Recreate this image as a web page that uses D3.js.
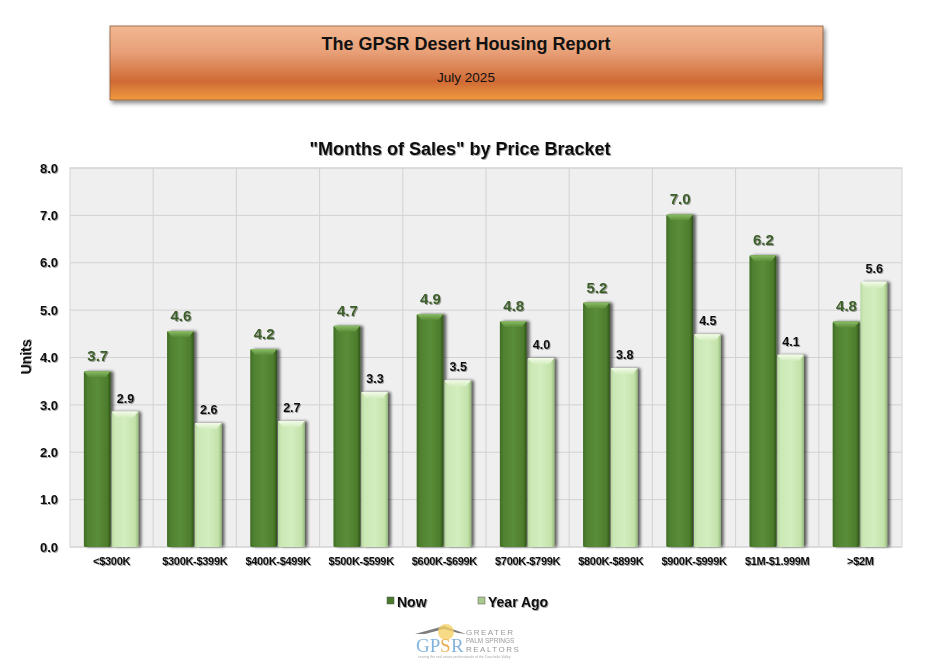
<!DOCTYPE html>
<html><head><meta charset="utf-8">
<script src="https://cdn.jsdelivr.net/npm/d3@7"></script>
<style>
body{margin:0;background:#fff;}
svg{display:block;font-family:"Liberation Sans",Arial,sans-serif;}
</style></head>
<body>
<svg id="c" width="937" height="668"></svg>
<script>
const categories = ["<$300K","$300K-$399K","$400K-$499K","$500K-$599K","$600K-$699K","$700K-$799K","$800K-$899K","$900K-$999K","$1M-$1.999M",">$2M"];
const nowValues = [3.71, 4.56, 4.18, 4.67, 4.92, 4.77, 5.16, 7.02, 6.16, 4.76];
const yearAgoValues = [2.86, 2.62, 2.66, 3.27, 3.52, 3.99, 3.78, 4.49, 4.06, 5.60];
const yTicks = [0,1,2,3,4,5,6,7,8];
const seriesNames = ["Now","Year Ago"];

const svg = d3.select("#c");
const defs = svg.append("defs");

// filters
const sh = defs.append("filter").attr("id","txtsh").attr("x","-20%").attr("y","-20%").attr("width","140%").attr("height","140%");
sh.append("feDropShadow").attr("dx",1).attr("dy",1).attr("stdDeviation",0.6).attr("flood-color","#000").attr("flood-opacity",0.35);
const bsh = defs.append("filter").attr("id","barsh").attr("x","-30%").attr("y","-10%").attr("width","160%").attr("height","120%");
bsh.append("feDropShadow").attr("dx",3).attr("dy",0).attr("stdDeviation",1.5).attr("flood-color","#000").attr("flood-opacity",0.6);
const boxsh = defs.append("filter").attr("id","boxsh").attr("x","-5%").attr("y","-20%").attr("width","110%").attr("height","150%");
boxsh.append("feDropShadow").attr("dx",2).attr("dy",3).attr("stdDeviation",2).attr("flood-color","#000").attr("flood-opacity",0.45);

// title box gradient
const tg = defs.append("linearGradient").attr("id","tg").attr("x1",0).attr("y1",0).attr("x2",0).attr("y2",1);
[[0,"#f2b792"],[0.35,"#e8a078"],[0.75,"#cf6a35"],[0.88,"#e0843a"],[1,"#f09a3c"]].forEach(s=>tg.append("stop").attr("offset",s[0]).attr("stop-color",s[1]));

// bar gradients
function hgrad(id, stops){
  const g = defs.append("linearGradient").attr("id",id).attr("x1",0).attr("y1",0).attr("x2",1).attr("y2",0);
  stops.forEach(s=>g.append("stop").attr("offset",s[0]).attr("stop-color",s[1]));
}
hgrad("gNow",[[0,"#3d6b22"],[0.12,"#4f8030"],[0.5,"#5a8d38"],[0.88,"#4d7c2c"],[1,"#2e5217"]]);
hgrad("gYa",[[0,"#b9d9a0"],[0.12,"#cbe8b5"],[0.5,"#d3edbf"],[0.88,"#c3e2aa"],[1,"#98bb7c"]]);
const capN = defs.append("linearGradient").attr("id","capN").attr("x1",0).attr("y1",0).attr("x2",0).attr("y2",1);
[[0,"#8cbc66"],[1,"#5a8d38"]].forEach(s=>capN.append("stop").attr("offset",s[0]).attr("stop-color",s[1]));
const capY = defs.append("linearGradient").attr("id","capY").attr("x1",0).attr("y1",0).attr("x2",0).attr("y2",1);
[[0,"#f4fbe9"],[1,"#d3edbf"]].forEach(s=>capY.append("stop").attr("offset",s[0]).attr("stop-color",s[1]));

// Title box
svg.append("rect").attr("x",110).attr("y",26).attr("width",713).attr("height",74)
  .attr("fill","url(#tg)").attr("stroke","#8a5a3a").attr("stroke-width",0.8).attr("filter","url(#boxsh)");
svg.append("text").attr("x",466).attr("y",50).attr("text-anchor","middle")
  .attr("font-size",18).attr("font-weight","bold").attr("fill","#111").text("The GPSR Desert Housing Report");
svg.append("text").attr("x",466).attr("y",82).attr("text-anchor","middle")
  .attr("font-size",13.5).attr("fill","#111").text("July 2025");

// Chart title
svg.append("text").attr("x",460).attr("y",155).attr("text-anchor","middle")
  .attr("font-size",18).attr("font-weight","bold").attr("fill","#111").attr("filter","url(#txtsh)")
  .text("\"Months of Sales\" by Price Bracket");

const m = {left:70, right:902, top:168, bottom:547};
const x = d3.scaleBand().domain(categories).range([m.left,m.right]).paddingInner(0).paddingOuter(0);
const y = d3.scaleLinear().domain([0,8]).range([m.bottom,m.top]);
const xs = d3.scaleBand().domain(seriesNames).range([0,x.bandwidth()]).paddingInner(0.0).paddingOuter(0.5);

// plot background
svg.append("rect").attr("x",m.left).attr("y",m.top).attr("width",m.right-m.left).attr("height",m.bottom-m.top)
  .attr("fill","#efefef").attr("stroke","#d4d4d4");

// grid
const grid = svg.append("g");
grid.selectAll("line.h").data(yTicks).join("line").attr("class","h")
  .attr("x1",m.left).attr("x2",m.right).attr("y1",d=>y(d)).attr("y2",d=>y(d))
  .attr("stroke","#d2d2d2").attr("stroke-width",1);
grid.selectAll("line.v").data(categories.slice(1)).join("line").attr("class","v")
  .attr("x1",d=>x(d)).attr("x2",d=>x(d)).attr("y1",m.top).attr("y2",m.bottom)
  .attr("stroke","#d2d2d2").attr("stroke-width",1);

// y axis
const yAxis = d3.axisLeft(y).tickValues(yTicks).tickFormat(d3.format(".1f")).tickSize(0).tickPadding(12);
const ya = svg.append("g").attr("transform",`translate(${m.left},0)`).call(yAxis);
ya.select(".domain").remove();
ya.selectAll("text").attr("font-size",13).attr("font-weight","bold").attr("fill","#111")
  .attr("font-family","Liberation Sans, Arial, sans-serif").attr("filter","url(#txtsh)");

svg.append("text").attr("transform","translate(31,357) rotate(-90)").attr("text-anchor","middle")
  .attr("font-size",14).attr("font-weight","bold").attr("fill","#111").attr("filter","url(#txtsh)").text("Units");

// x axis
const xAxis = d3.axisBottom(x).tickSize(0).tickPadding(10);
const xa = svg.append("g").attr("transform",`translate(0,${m.bottom})`).call(xAxis);
xa.select(".domain").remove();
xa.selectAll("text").attr("font-size",11).attr("font-weight","bold").attr("fill","#111")
  .attr("font-family","Liberation Sans, Arial, sans-serif").attr("letter-spacing","-0.3").attr("filter","url(#txtsh)");

// bars
const rows = categories.map((c,i)=>({c, vals:[{s:"Now",v:nowValues[i]},{s:"Year Ago",v:yearAgoValues[i]}]}));
const bw = xs.bandwidth();
const groups = svg.append("g").selectAll("g").data(rows).join("g").attr("transform",d=>`translate(${x(d.c)},0)`);
const bars = groups.selectAll("g.b").data(d=>d.vals).join("g").attr("class","b");
bars.append("rect")
  .attr("x",d=>xs(d.s)).attr("y",d=>y(d.v)).attr("width",bw-1).attr("height",d=>y(0)-y(d.v))
  .attr("rx",1.5)
  .attr("fill",d=>d.s==="Now"?"url(#gNow)":"url(#gYa)").attr("filter","url(#barsh)");
// bevel cap
bars.append("path")
  .attr("d",d=>{const x0=xs(d.s), x1=x0+bw-1, t=y(d.v); return `M${x0},${t} L${x1},${t} L${x1-5},${t+6} L${x0+5},${t+6} Z`;})
  .attr("fill",d=>d.s==="Now"?"url(#capN)":"url(#capY)");
// labels
bars.append("text")
  .attr("x",d=>xs(d.s)+bw/2).attr("y",d=>y(d.v)-(d.s==="Now"?10:9))
  .attr("text-anchor","middle")
  .attr("font-size",d=>d.s==="Now"?15:12.5).attr("font-weight","bold")
  .attr("fill",d=>d.s==="Now"?"#3d5e2a":"#111").attr("filter","url(#txtsh)")
  .text(d=>d3.format(".1f")(d.v));

// legend
const lg = svg.append("g");
const legendItems = [{s:"Now",x:387,fill:"#4a7a2c"},{s:"Year Ago",x:478,fill:"#a9c98f"}];
legendItems.forEach(it=>{
  lg.append("rect").attr("x",it.x).attr("y",597).attr("width",7).attr("height",7).attr("fill",it.fill).attr("stroke","#555").attr("stroke-width",0.5);
  lg.append("text").attr("x",it.x+10).attr("y",607).attr("font-size",14).attr("font-weight","bold").attr("fill","#111")
    .attr("filter","url(#txtsh)").text(it.s);
});

// logo
const logo = svg.append("g").attr("opacity",0.85);
logo.append("path").attr("d","M415,634 L444,626 L466,634 L458,633 L444,629 L425,634 Z").attr("fill","#666");
logo.append("circle").attr("cx",446).attr("cy",632).attr("r",8).attr("fill","#f2c94c").attr("opacity",0.8);
logo.append("text").attr("x",416).attr("y",652).attr("font-size",19).attr("font-family","Liberation Serif, serif").attr("fill","#6fa8d6").text("GP");
logo.append("text").attr("x",440).attr("y",652).attr("font-size",19).attr("font-family","Liberation Serif, serif").attr("fill","#e8a33a").text("S");
logo.append("text").attr("x",451).attr("y",652).attr("font-size",19).attr("font-family","Liberation Serif, serif").attr("fill","#6fa8d6").text("R");
logo.append("text").attr("x",466).attr("y",635).attr("font-size",8).attr("letter-spacing","1.5").attr("fill","#888").text("GREATER");
logo.append("text").attr("x",466).attr("y",643).attr("font-size",6.5).attr("fill","#888").text("PALM SPRINGS");
logo.append("text").attr("x",466).attr("y",652).attr("font-size",8).attr("letter-spacing","1.5").attr("fill","#888").text("REALTORS");
logo.append("text").attr("x",418).attr("y",658).attr("font-size",3.5).attr("fill","#999").text("serving the real estate professionals of the Coachella Valley");
</script>
</body></html>
